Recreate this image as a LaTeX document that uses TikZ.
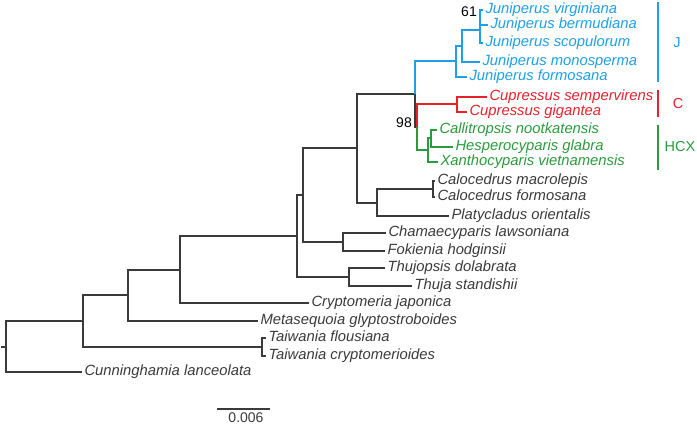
\documentclass[tikz,border=0pt]{standalone}
\usepackage{fontspec}
\setmainfont{Liberation Sans}
\usetikzlibrary{positioning}
\definecolor{treeGray}{HTML}{3A3A3A}
\definecolor{cladeJ}{HTML}{1E9FE6}
\definecolor{cladeC}{HTML}{E8202A}
\definecolor{cladeHCX}{HTML}{2A9A3C}
\tikzset{
  treeBranch/.style={draw=treeGray, line width=1.2bp},
  jBranch/.style={draw=cladeJ, line width=1.2bp},
  cBranch/.style={draw=cladeC, line width=1.2bp},
  hcxBranch/.style={draw=cladeHCX, line width=1.2bp},
  taxonLabel/.style={
    anchor=west,
    font=\fontsize{14.8bp}{17bp}\selectfont\itshape,
    inner xsep=2.5bp,
    inner ysep=0pt,
    outer sep=0pt,
    text height=10.5bp,
    text depth=3bp,
    text=treeGray
  },
  supportLabel/.style={
    anchor=east,
    font=\fontsize{14bp}{16bp}\selectfont,
    inner sep=0pt,
    text=black
  },
  cladeBar/.style={line width=2bp},
  cladeLabel/.style={font=\fontsize{14.5bp}{17bp}\selectfont, inner sep=0pt}
}

\begin{document}
\begin{tikzpicture}[x=1bp,y=-1bp]
  \useasboundingbox (0,0) rectangle (697,425);

  % taxa
  \node[taxonLabel, text=cladeJ] (t1) at (483,10) {Juniperus virginiana};
  \node[taxonLabel, text=cladeJ] (t2) at (488,25) {Juniperus bermudiana};
  \node[taxonLabel, text=cladeJ] (t3) at (483,43) {Juniperus scopulorum};
  \node[taxonLabel, text=cladeJ] (t4) at (480,62) {Juniperus monosperma};
  \node[taxonLabel, text=cladeJ] (t5) at (467,77) {Juniperus formosana};
  \node[taxonLabel, text=cladeC] (t6) at (487,97) {Cupressus sempervirens};
  \node[taxonLabel, text=cladeC] (t7) at (467,112) {Cupressus gigantea};
  \node[taxonLabel, text=cladeHCX] (t8) at (437,130) {Callitropsis nootkatensis};
  \node[taxonLabel, text=cladeHCX] (t9) at (453,147) {Hesperocyparis glabra};
  \node[taxonLabel, text=cladeHCX] (t10) at (438,162) {Xanthocyparis vietnamensis};
  \node[taxonLabel] (t11) at (435,181) {Calocedrus macrolepis};
  \node[taxonLabel] (t12) at (435,197) {Calocedrus formosana};
  \node[taxonLabel] (t13) at (449,216) {Platycladus orientalis};
  \node[taxonLabel] (t14) at (386,233) {Chamaecyparis lawsoniana};
  \node[taxonLabel] (t15) at (385,251) {Fokienia hodginsii};
  \node[taxonLabel] (t16) at (385,268) {Thujopsis dolabrata};
  \node[taxonLabel] (t17) at (412,286) {Thuja standishii};
  \node[taxonLabel] (t18) at (309,303) {Cryptomeria japonica};
  \node[taxonLabel] (t19) at (258,321) {Metasequoia glyptostroboides};
  \node[taxonLabel] (t20) at (266,338) {Taiwania flousiana};
  \node[taxonLabel] (t21) at (266,356) {Taiwania cryptomerioides};
  \node[taxonLabel] (t22) at (82,372) {Cunninghamia lanceolata};

  % internal nodes
  \coordinate (nJ61) at (480,30);
  \coordinate (nJ2) at (462,46);
  \coordinate (nJ1) at (456,61);
  \coordinate (nCu) at (457,104);
  \coordinate (nH2) at (431,138);
  \coordinate (nH) at (428,150);
  \coordinate (nCH) at (417,127);
  \coordinate (nB) at (415,94);
  \coordinate (nCal) at (433,189);
  \coordinate (nP) at (377,203);
  \coordinate (nA) at (357,148);
  \coordinate (nCF) at (343,242);
  \coordinate (nZ) at (303,195);
  \coordinate (nTT) at (349,277);
  \coordinate (nY) at (297,236);
  \coordinate (nW) at (180,270);
  \coordinate (nV) at (128,295);
  \coordinate (nTai) at (262,347);
  \coordinate (nU) at (83,321);
  \coordinate (nR) at (6,347);
  \coordinate (rootStub) at (1,347);

  % branches
  \draw[treeBranch] (rootStub) -- (nR);
  \foreach \p/\c in {nR/nU, nR/t22.west, nU/nV, nU/nTai, nTai/t20.west,
      nTai/t21.west, nV/nW, nV/t19.west, nW/nY, nW/t18.west, nY/nZ, nY/nTT,
      nTT/t16.west, nTT/t17.west, nZ/nA, nZ/nCF, nCF/t14.west, nCF/t15.west,
      nA/nB, nA/nP, nP/nCal, nP/t13.west, nCal/t11.west, nCal/t12.west,
      nB/nCH} {
    \draw[treeBranch] (\p) |- (\c);
  }
  \foreach \p/\c in {nB/nJ1, nJ1/nJ2, nJ1/t5.west, nJ2/nJ61, nJ2/t4.west,
      nJ61/t1.west, nJ61/t2.west, nJ61/t3.west} {
    \draw[jBranch] (\p) |- (\c);
  }
  \foreach \p/\c in {nCH/nCu, nCu/t6.west, nCu/t7.west} {
    \draw[cBranch] (\p) |- (\c);
  }
  \foreach \p/\c in {nCH/nH, nH/nH2, nH/t10.west, nH2/t8.west, nH2/t9.west} {
    \draw[hcxBranch] (\p) |- (\c);
  }

  % support values
  \node[supportLabel] (s61) at (477,12) {61};
  \node[supportLabel] (s98) at (412,123) {98};

  % clade bars
  \coordinate (jTop) at (658,2);
  \coordinate (jBot) at (658,82);
  \coordinate (cTop) at (658,90);
  \coordinate (cBot) at (658,117);
  \coordinate (hTop) at (658,125);
  \coordinate (hBot) at (658,170);
  \draw[cladeBar, cladeJ] (jTop) -- (jBot);
  \draw[cladeBar, cladeC] (cTop) -- (cBot);
  \draw[cladeBar, cladeHCX] (hTop) -- (hBot);
  \node[cladeLabel, text=cladeJ] (labJ) at (677,43) {J};
  \node[cladeLabel, text=cladeC] (labC) at (678,104) {C};
  \node[cladeLabel, text=cladeHCX] (labHCX) at (680,147) {HCX};

  % scale bar
  \coordinate (scaleL) at (217,409);
  \coordinate (scaleR) at (270,409);
  \draw[treeBranch] (scaleL) -- (scaleR);
  \node[cladeLabel, font=\fontsize{14bp}{16bp}\selectfont, text=treeGray]
    (scaleText) at (246,418) {0.006};
\end{tikzpicture}
\end{document}
